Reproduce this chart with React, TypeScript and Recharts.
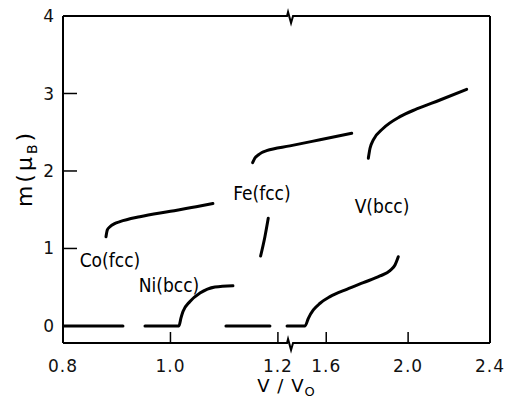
import React from 'react';
import { ComposedChart, Line, XAxis, YAxis, ReferenceDot } from 'recharts';

// broken x-axis: left part 0.8..BREAK_LO, right part BREAK_HI..2.4 (compressed)
const BREAK_LO = 1.2263;
const BREAK_HI = 1.433;
const RIGHT_RATIO = 0.381;
const toU = (v: number) => (v <= BREAK_LO ? v : BREAK_LO + (v - BREAK_HI) * RIGHT_RATIO);
const fromU = (u: number) => (u <= BREAK_LO + 1e-9 ? u : BREAK_HI + (u - BREAK_LO) / RIGHT_RATIO);

const xTickValues = [0.8, 1.0, 1.2, 1.6, 2.0, 2.4];
const yTickValues = [0, 1, 2, 3, 4];

// Co(fcc)
const coV = [0.88, 0.8825, 0.8874, 0.896, 0.906, 0.943, 1.0, 1.055, 1.079];
const coM = [1.15, 1.24, 1.28, 1.32, 1.346, 1.41, 1.48, 1.548, 1.58];
// Ni(bcc) (with zero part)
const niV = [0.9526, 1.0158, 1.0195, 1.0233, 1.0363, 1.0549, 1.0828, 1.1163];
const niM = [0, 0, 0.1, 0.185, 0.316, 0.424, 0.502, 0.519];
// Fe(fcc) upper branch
const feUpV = [1.1529, 1.1572, 1.1633, 1.1702, 1.179, 1.2223, 1.5697, 1.7245];
const feUpM = [2.107, 2.168, 2.206, 2.239, 2.262, 2.324, 2.403, 2.486];
// Fe(fcc) lower branch
const feLoV = [1.1678, 1.1758, 1.182];
const feLoM = [0.903, 1.152, 1.39];
// V(bcc) upper branch
const vUpV = [1.8056, 1.8139, 1.83, 1.8788, 1.9603, 2.0419, 2.1557, 2.286];
const vUpM = [2.164, 2.293, 2.4, 2.551, 2.701, 2.8, 2.916, 3.054];
// V(bcc) lower branch (with zero part)
const vLoV = [1.217, 1.4965, 1.5126, 1.537, 1.5698, 1.6185, 1.7001, 1.7811, 1.8627, 1.9115, 1.9359, 1.952];
const vLoM = [0, 0, 0.099, 0.206, 0.293, 0.378, 0.473, 0.559, 0.645, 0.713, 0.787, 0.894];
// zero dashes
const zero1V = [0.8, 0.9116];
const zero2V = [1.1033, 1.1851];

const labelNames = ['Co(fcc)', 'Ni(bcc)', 'Fe(fcc)', 'V(bcc)'];
const labelV = [0.8874, 0.9972, 1.1702, 1.8725];
const labelM = [0.852, 0.529, 1.716, 1.548];

const zip = (vs: number[], ms: number[]) => vs.map((v, i) => ({ u: toU(v), m: ms[i] }));

const series = [
  { key: 'co', data: zip(coV, coM), type: 'monotone' },
  { key: 'ni', data: zip(niV, niM), type: 'monotone' },
  { key: 'feUp', data: zip(feUpV, feUpM), type: 'monotone' },
  { key: 'feLo', data: zip(feLoV, feLoM), type: 'monotone' },
  { key: 'vUp', data: zip(vUpV, vUpM), type: 'monotone' },
  { key: 'vLo', data: zip(vLoV, vLoM), type: 'monotone' },
  { key: 'z1', data: zip(zero1V, [0, 0]), type: 'linear' },
  { key: 'z2', data: zip(zero2V, [0, 0]), type: 'linear' },
];

const tickFont = { fontSize: 17, fill: '#111', fontFamily: 'DejaVu Sans, sans-serif', letterSpacing: 1 };

const BreakMark = (p: any) => {
  const { cx, cy } = p;
  return (
    <g>
      <rect x={cx - 6} y={cy - 2} width={8} height={4} fill="#fff" />
      <path
        d={`M${cx - 8},${cy} L${cx - 5},${cy} L${cx - 4},${cy - 4} L${cx - 1},${cy + 7} L${cx + 1},${cy} L${cx + 3},${cy}`}
        fill="none"
        stroke="#000"
        strokeWidth={2}
      />
    </g>
  );
};

const makeLabelShape = (name: string) => (p: any) => (
  <text
    x={p.cx}
    y={p.cy}
    textAnchor="middle"
    dominantBaseline="central"
    fontSize={19}
    fontFamily="'Liberation Sans Narrow', 'DejaVu Sans Condensed', sans-serif"
    fill="#000"
  >
    {name}
  </text>
);

const XLabel = (props: any) => {
  const vb = props.viewBox;
  const x = vb.x + vb.width / 2 + 10;
  const y = vb.y + 49;
  return (
    <text x={x} y={y} textAnchor="middle" fontSize={18} fontFamily="DejaVu Sans, sans-serif" fill="#000" letterSpacing={1}>
      <tspan>V / V</tspan>
      <tspan fontSize={13} dy={4}>O</tspan>
    </text>
  );
};

const YLabel = (props: any) => {
  const vb = props.viewBox;
  const x = 32;
  const y = vb.y + vb.height / 2 - 11;
  return (
    <text
      x={x}
      y={y}
      transform={`rotate(-90, ${x}, ${y})`}
      textAnchor="middle"
      fontSize={22}
      fontFamily="DejaVu Sans, sans-serif"
      fill="#000"
      letterSpacing={3}
    >
      <tspan>m(μ</tspan>
      <tspan fontSize={14} dy={5}>B</tspan>
      <tspan dy={-5}>)</tspan>
    </text>
  );
};

export default function App() {
  const uTicks = xTickValues.map(toU);
  const fmt = (u: number) => fromU(u).toFixed(1);
  return (
    <div style={{ position: 'absolute', left: 0, top: 0, background: '#fff' }}>
      <ComposedChart width={505} height={400} margin={{ top: 0, right: 0, bottom: 0, left: 0 }}>
        <XAxis
          xAxisId="bottom"
          dataKey="u"
          type="number"
          domain={[0.8, toU(2.4)]}
          allowDataOverflow
          ticks={uTicks}
          tickFormatter={fmt}
          orientation="bottom"
          height={57}
          tickSize={-11}
          tickMargin={28}
          interval={0}
          tick={tickFont}
          axisLine={{ stroke: '#000', strokeWidth: 2 }}
          tickLine={{ stroke: '#000', strokeWidth: 1.5 }}
          label={{ content: XLabel }}
        />
        <XAxis
          xAxisId="top"
          dataKey="u"
          type="number"
          domain={[0.8, toU(2.4)]}
          allowDataOverflow
          ticks={uTicks}
          orientation="top"
          height={16}
          tickSize={-14}
          interval={0}
          tick={false}
          axisLine={{ stroke: '#000', strokeWidth: 2 }}
          tickLine={{ stroke: '#000', strokeWidth: 1.5 }}
        />
        <YAxis
          yAxisId="left"
          type="number"
          domain={[-0.22, 4]}
          allowDataOverflow
          ticks={yTickValues}
          orientation="left"
          width={63}
          tickSize={-14}
          tickMargin={22}
          interval={0}
          tick={tickFont}
          axisLine={{ stroke: '#000', strokeWidth: 2 }}
          tickLine={{ stroke: '#000', strokeWidth: 1.5 }}
          label={{ content: YLabel }}
        />
        <YAxis
          yAxisId="right"
          type="number"
          domain={[-0.22, 4]}
          allowDataOverflow
          ticks={yTickValues}
          orientation="right"
          width={15}
          tickSize={-15}
          interval={0}
          tick={false}
          axisLine={{ stroke: '#000', strokeWidth: 2 }}
          tickLine={{ stroke: '#000', strokeWidth: 1.5 }}
        />
        {series.map((s) => (
          <Line
            key={s.key}
            data={s.data}
            dataKey="m"
            xAxisId="bottom"
            yAxisId="left"
            type={s.type as any}
            stroke="#000"
            strokeWidth={3}
            strokeLinecap="round"
            dot={false}
            activeDot={false}
            isAnimationActive={false}
          />
        ))}
        {labelNames.map((n, i) => (
          <ReferenceDot
            key={n}
            xAxisId="bottom"
            yAxisId="left"
            x={toU(labelV[i])}
            y={labelM[i]}
            ifOverflow="visible"
            shape={makeLabelShape(n)}
          />
        ))}
        <ReferenceDot xAxisId="bottom" yAxisId="left" x={BREAK_LO} y={4} ifOverflow="visible" shape={BreakMark} zIndex={1000} />
        <ReferenceDot xAxisId="bottom" yAxisId="left" x={BREAK_LO} y={-0.22} ifOverflow="visible" shape={BreakMark} zIndex={1000} />
      </ComposedChart>
    </div>
  );
}
